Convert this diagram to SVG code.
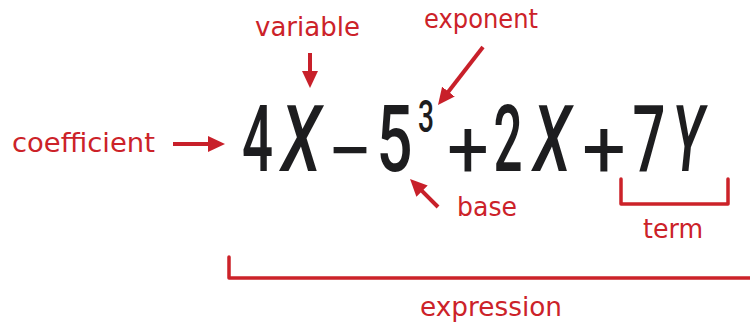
<svg xmlns="http://www.w3.org/2000/svg" width="750" height="324" viewBox="0 0 750 324">
  <style>
    .lbl { font-family: "DejaVu Sans", "Noto Sans", sans-serif; font-size: 26px; fill: #cc2229; }
    .eq { font-family: Roboto, "Liberation Sans", sans-serif; font-weight: 500; fill: #1d1d1f; text-anchor: middle; }
    .op { font-weight: 400; }
    .it { font-style: italic; }
    .arr { stroke: #c8202a; stroke-width: 4; fill: none; marker-end: url(#head); }
    .br { stroke: #cc2229; stroke-width: 3.5; fill: none; stroke-linejoin: round; stroke-linecap: round; }
  </style>
  <defs>
    <marker id="head" markerUnits="userSpaceOnUse" markerWidth="18" markerHeight="16" refX="9" refY="8" orient="auto">
      <path d="M0,0 L17,8 L0,16 z" fill="#c8202a"/>
    </marker>
  </defs>
  <rect width="750" height="324" fill="#ffffff"/>

  <g id="expression-formula">
    <text class="eq" x="257.5" y="171" font-size="92" textLength="31" lengthAdjust="spacingAndGlyphs">4</text>
    <text class="eq it" x="301" y="171" font-size="92" textLength="40" lengthAdjust="spacingAndGlyphs">X</text>
    <text class="eq op" x="350" y="180" font-size="84" textLength="46" lengthAdjust="spacingAndGlyphs">−</text>
    <text class="eq" x="394.5" y="171" font-size="92" textLength="36" lengthAdjust="spacingAndGlyphs">5</text>
    <text class="eq" x="426" y="132" font-size="45" textLength="16" lengthAdjust="spacingAndGlyphs">3</text>
    <text class="eq op" x="468" y="177" font-size="82" textLength="42" lengthAdjust="spacingAndGlyphs">+</text>
    <text class="eq" x="508" y="171" font-size="92" textLength="29" lengthAdjust="spacingAndGlyphs">2</text>
    <text class="eq it" x="552" y="171" font-size="92" textLength="38" lengthAdjust="spacingAndGlyphs">X</text>
    <text class="eq op" x="604" y="177" font-size="82" textLength="44" lengthAdjust="spacingAndGlyphs">+</text>
    <text class="eq" x="649" y="171" font-size="92" textLength="33" lengthAdjust="spacingAndGlyphs">7</text>
    <text class="eq it" x="688" y="171" font-size="92" textLength="32" lengthAdjust="spacingAndGlyphs">Y</text>
  </g>

  <g id="label-variable">
    <text class="lbl" x="255" y="36" textLength="105" lengthAdjust="spacingAndGlyphs">variable</text>
  </g>
  <g id="label-coefficient">
    <text class="lbl" x="12" y="152" textLength="143" lengthAdjust="spacingAndGlyphs">coefficient</text>
  </g>
  <g id="label-exponent">
    <text class="lbl" x="424" y="28" textLength="114" lengthAdjust="spacingAndGlyphs">exponent</text>
  </g>
  <g id="label-base">
    <text class="lbl" x="457" y="216" textLength="60" lengthAdjust="spacingAndGlyphs">base</text>
  </g>
  <g id="label-term">
    <text class="lbl" x="643" y="238" textLength="60" lengthAdjust="spacingAndGlyphs">term</text>
  </g>
  <g id="label-expression">
    <text class="lbl" x="420" y="316" textLength="142" lengthAdjust="spacingAndGlyphs">expression</text>
  </g>

  <g id="connectors">
    <line class="arr" x1="310" y1="53" x2="310" y2="80"/>
    <line class="arr" x1="173" y1="144" x2="217" y2="144"/>
    <line class="arr" x1="483" y1="47" x2="442.9" y2="98.7"/>
    <line class="arr" x1="438" y1="207" x2="415.7" y2="184.7"/>
    <path class="br" d="M621,179 V204 H728 V179"/>
    <path class="br" d="M229,257 V278 H752"/>
  </g>
</svg>
